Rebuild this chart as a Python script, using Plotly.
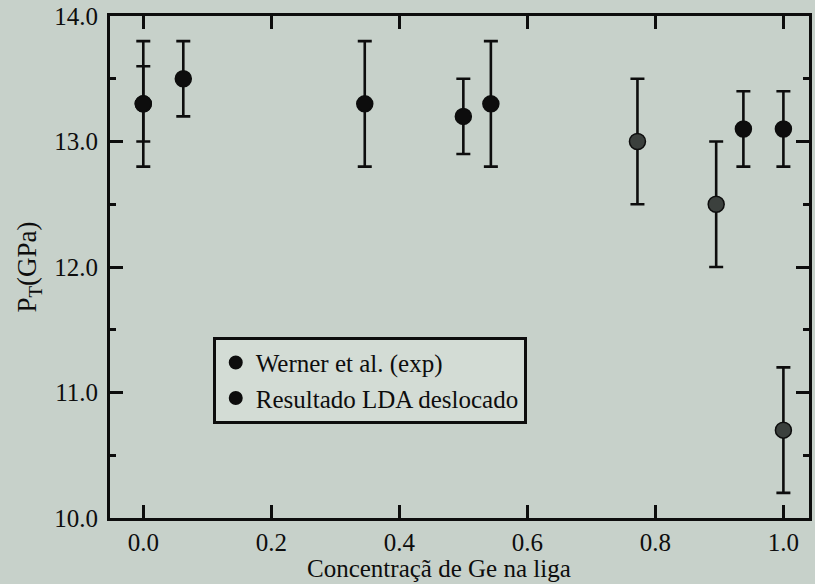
import plotly.graph_objects as go

# Werner et al. (experimental) transition pressures
werner_x = [0.0, 0.346, 0.543, 0.772, 0.895, 1.0]
werner_p = [13.3, 13.3, 13.3, 13.0, 12.5, 10.7]
werner_err = [0.5, 0.5, 0.5, 0.5, 0.5, 0.5]

# Shifted LDA results
lda_x = [0.0, 0.0625, 0.5, 0.9375, 1.0]
lda_p = [13.3, 13.5, 13.2, 13.1, 13.1]
lda_err = [0.3, 0.3, 0.3, 0.3, 0.3]

x_ticks = [0.0, 0.2, 0.4, 0.6, 0.8, 1.0]
y_ticks = [10.0, 11.0, 12.0, 13.0, 14.0]

FONT = "Liberation Serif"
INK = "#0d0d0d"
PAPER = "#c7d1ca"
werner_fill = [INK, INK, INK, "#3b403d", "#3b403d", "#3b403d"]

fig = go.Figure()

fig.add_trace(go.Scatter(
    x=werner_x, y=werner_p, mode="markers", name="Werner et al. (exp)",
    marker=dict(size=16, color=werner_fill, line=dict(width=1.5, color=INK)),
    error_y=dict(type="data", array=werner_err, visible=True,
                 color=INK, thickness=2.6, width=7),
))
fig.add_trace(go.Scatter(
    x=lda_x, y=lda_p, mode="markers", name="Resultado LDA deslocado",
    marker=dict(size=16, color=INK, line=dict(width=1.5, color=INK)),
    error_y=dict(type="data", array=lda_err, visible=True,
                 color=INK, thickness=2.6, width=7),
))

axis_common = dict(
    showline=True, linewidth=3, linecolor=INK, mirror="allticks",
    ticks="inside", ticklen=13, tickwidth=2.6, tickcolor=INK,
    showgrid=False, zeroline=False,
    tickfont=dict(family=FONT, size=25, color=INK),
    tickformat=".1f",
)

fig.update_xaxes(
    **axis_common,
    range=[-0.052, 1.04], tickvals=x_ticks,
    ticklabelstandoff=0,
)
fig.update_yaxes(
    **axis_common,
    range=[10.0, 14.0], tickvals=y_ticks,
    minor=dict(dtick=0.5, ticks="inside", ticklen=6, tickwidth=2.6, tickcolor=INK),
    ticklabelstandoff=4,
    title=dict(text="P<sub>T</sub>(GPa)",
               font=dict(family=FONT, size=27, color=INK), standoff=10),
)

# x-axis title placed just under the tick labels
fig.add_annotation(
    text="Concentraçã de Ge na liga", showarrow=False,
    xref="paper", yref="paper", x=0.471, y=-0.101,
    xanchor="center", yanchor="middle",
    font=dict(family=FONT, size=25, color=INK),
)

fig.update_layout(
    width=815, height=584,
    margin=dict(l=110, r=3, t=16, b=66),
    paper_bgcolor=PAPER, plot_bgcolor=PAPER,
    showlegend=True,
    legend=dict(
        x=0.147, y=0.361, xanchor="left", yanchor="top",
        bgcolor="#d3dcd5", bordercolor=INK, borderwidth=3,
        font=dict(family=FONT, size=25, color=INK),
        itemsizing="constant", tracegroupgap=0,
    ),
)

fig.write_html("out.html")
